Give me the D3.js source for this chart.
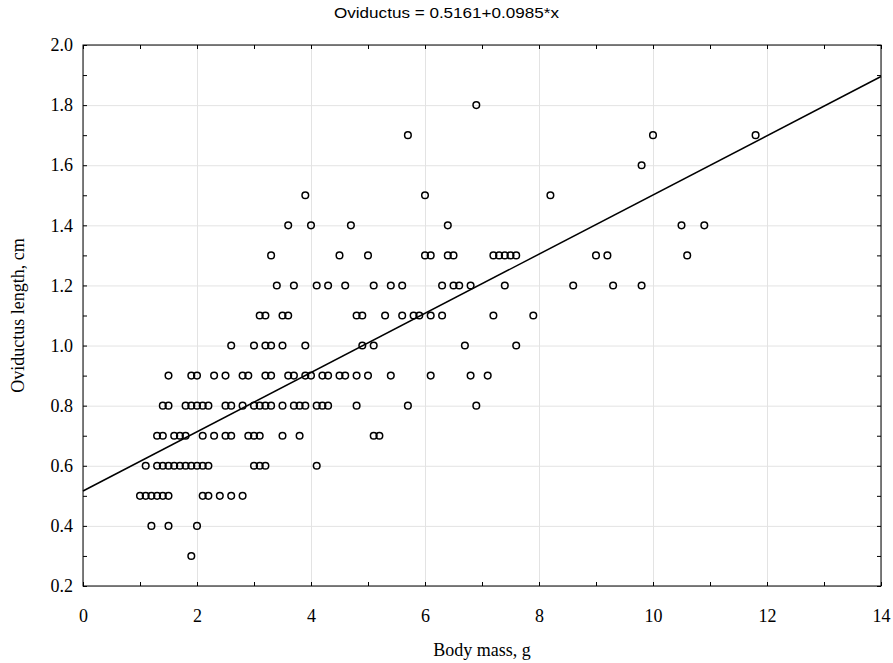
<!DOCTYPE html>
<html lang='en'>
  <head>
    <meta charset='utf-8'>
    <title>Oviductus length vs body mass</title>
    <script type='text/javascript' src='https://cdn.jsdelivr.net/npm/d3@7/dist/d3.min.js'></script>
    <style type='text/css'>
    body{ margin: 0; background: white; }
    .tick text{ font-family: 'Liberation Serif', 'Times New Roman', serif; font-size: 18px; fill: black; }
    .grid line{ stroke: #e3e3e3; stroke-width: 1; }
    .grid path{ display: none; }
    </style>
  </head>
  <body>
    <script type='text/javascript'>

    var w = 893;
    var h = 663;

    // x tick labels and y tick labels
    var xTicks = [0, 2, 4, 6, 8, 10, 12, 14];
    var yTicks = [0.2, 0.4, 0.6, 0.8, 1.0, 1.2, 1.4, 1.6, 1.8, 2.0];

    // regression from the title
    var intercept = 0.5161;
    var slope = 0.0985;

    // body mass values (g) for each oviductus length row (cm)
    var row03 = [1.9];
    var row04 = [1.2, 1.5, 2.0];
    var row05 = [1.0, 1.1, 1.2, 1.3, 1.4, 1.5, 2.1, 2.2, 2.4, 2.6, 2.8];
    var row06 = [1.1, 1.3, 1.4, 1.5, 1.6, 1.7, 1.8, 1.9, 2.0, 2.1, 2.2, 3.0, 3.1, 3.2, 4.1];
    var row07 = [1.3, 1.4, 1.6, 1.7, 1.8, 2.1, 2.3, 2.5, 2.6, 2.9, 3.0, 3.1, 3.5, 3.8, 5.1, 5.2];
    var row08 = [1.4, 1.5, 1.8, 1.9, 2.0, 2.1, 2.2, 2.5, 2.6, 2.8, 3.0, 3.1, 3.2, 3.3, 3.5, 3.7, 3.8, 3.9, 4.1, 4.2, 4.3, 4.8, 5.7, 6.9];
    var row09 = [1.5, 1.9, 2.0, 2.3, 2.5, 2.8, 2.9, 3.2, 3.3, 3.6, 3.7, 3.9, 4.0, 4.2, 4.3, 4.5, 4.6, 4.8, 5.0, 5.4, 6.1, 6.8, 7.1];
    var row10 = [2.6, 3.0, 3.2, 3.3, 3.5, 3.9, 4.9, 5.1, 6.7, 7.6];
    var row11 = [3.1, 3.2, 3.5, 3.6, 4.8, 4.9, 5.3, 5.6, 5.8, 5.9, 6.1, 6.3, 7.2, 7.9];
    var row12 = [3.4, 3.7, 4.1, 4.3, 4.6, 5.1, 5.4, 5.6, 6.3, 6.5, 6.6, 6.8, 7.4, 8.6, 9.3, 9.8];
    var row13 = [3.3, 4.5, 5.0, 6.0, 6.1, 6.4, 6.5, 7.2, 7.3, 7.4, 7.5, 7.6, 9.0, 9.2, 10.6];
    var row14 = [3.6, 4.0, 4.7, 6.4, 10.5, 10.9];
    var row15 = [3.9, 6.0, 8.2];
    var row16 = [9.8];
    var row17 = [5.7, 10.0, 11.8];
    var row18 = [6.9];

    var rows = [
      [0.3, row03], [0.4, row04], [0.5, row05], [0.6, row06], [0.7, row07],
      [0.8, row08], [0.9, row09], [1.0, row10], [1.1, row11], [1.2, row12],
      [1.3, row13], [1.4, row14], [1.5, row15], [1.6, row16], [1.7, row17], [1.8, row18]
    ];

    var dataset = [];
    rows.forEach(function(r){
      r[1].forEach(function(x){ dataset.push([x, r[0]]); });
    });

    var padLeft = 83, padRight = 881, padTop = 45, padBottom = 586;

    var svg = d3.select('body')
                .append('svg')
                .attr('width', w)
                .attr('height', h);

    var xScale = d3.scaleLinear()
                   .domain([0, 14])
                   .range([padLeft, padRight]);

    var yScale = d3.scaleLinear()
                   .domain([0.2, 2.0])
                   .range([padBottom, padTop]);

    // grid
    svg.append('g')
       .attr('class', 'grid')
       .attr('transform', 'translate(0,' + padBottom + ')')
       .call(d3.axisBottom(xScale).tickValues(xTicks).tickSize(-(padBottom - padTop)).tickFormat(''));

    svg.append('g')
       .attr('class', 'grid')
       .attr('transform', 'translate(' + padLeft + ',0)')
       .call(d3.axisLeft(yScale).tickValues(yTicks).tickSize(-(padRight - padLeft)).tickFormat(''));

    // inner ticks on all four sides
    var xMinor = d3.range(0, 15, 1);
    var yMinor = d3.range(2, 21, 1).map(function(d){ return d / 10; });

    function ticksOnly(axis, tr){
      var g = svg.append('g').attr('transform', tr).call(axis);
      g.select('.domain').remove();
      g.selectAll('line').attr('stroke', 'black');
      return g;
    }
    ticksOnly(d3.axisTop(xScale).tickValues(xMinor).tickSize(4).tickFormat(''), 'translate(0,' + padBottom + ')');
    ticksOnly(d3.axisBottom(xScale).tickValues(xMinor).tickSize(4).tickFormat(''), 'translate(0,' + padTop + ')');
    ticksOnly(d3.axisRight(yScale).tickValues(yMinor).tickSize(4).tickFormat(''), 'translate(' + padLeft + ',0)');
    ticksOnly(d3.axisLeft(yScale).tickValues(yMinor).tickSize(4).tickFormat(''), 'translate(' + padRight + ',0)');

    // tick labels
    var xAxis = d3.axisBottom(xScale)
                  .tickValues(xTicks)
                  .tickSize(0)
                  .tickPadding(23)
                  .tickFormat(d3.format('d'));
    var gx = svg.append('g')
       .attr('class', 'x axis')
       .attr('transform', 'translate(0,' + padBottom + ')')
       .call(xAxis);
    gx.select('.domain').remove();

    var yAxis = d3.axisLeft(yScale)
                  .tickValues(yTicks)
                  .tickSize(0)
                  .tickPadding(10)
                  .tickFormat(d3.format('.1f'));
    var gy = svg.append('g')
       .attr('class', 'y axis')
       .attr('transform', 'translate(' + padLeft + ',0)')
       .call(yAxis);
    gy.select('.domain').remove();

    // frame
    svg.append('rect')
       .attr('x', padLeft)
       .attr('y', padTop)
       .attr('width', padRight - padLeft)
       .attr('height', padBottom - padTop)
       .attr('fill', 'none')
       .attr('stroke', 'black')
       .attr('stroke-width', 1);

    // regression line
    svg.append('line')
       .attr('x1', xScale(0))
       .attr('y1', yScale(intercept))
       .attr('x2', xScale(14))
       .attr('y2', yScale(intercept + slope * 14))
       .attr('stroke', 'black')
       .attr('stroke-width', 1.5);

    svg.selectAll('circle')
       .data(dataset)
       .enter()
       .append('circle')
       .attr('cx', function(d){ return xScale(d[0]); })
       .attr('cy', function(d){ return yScale(d[1]); })
       .attr('r', 3.3)
       .attr('fill', 'none')
       .attr('stroke', 'black')
       .attr('stroke-width', 1.5);

    // title and axis names
    svg.append('text')
       .attr('x', w / 2)
       .attr('y', 18)
       .attr('text-anchor', 'middle')
       .attr('font-family', "'Liberation Sans Narrow', 'Arial Narrow', 'Liberation Sans', sans-serif")
       .attr('font-size', '15px')
       .attr('textLength', 225)
       .attr('lengthAdjust', 'spacingAndGlyphs')
       .text('Oviductus = 0.5161+0.0985*x');

    svg.append('text')
       .attr('x', (padLeft + padRight) / 2)
       .attr('y', 656)
       .attr('text-anchor', 'middle')
       .attr('font-family', "'Liberation Serif', 'Times New Roman', serif")
       .attr('font-size', '18px')
       .text('Body mass, g');

    svg.append('text')
       .attr('transform', 'translate(24,' + ((padTop + padBottom) / 2) + ') rotate(-90)')
       .attr('text-anchor', 'middle')
       .attr('font-family', "'Liberation Serif', 'Times New Roman', serif")
       .attr('font-size', '18px')
       .text('Oviductus length, cm');

    </script>
  </body>
</html>
